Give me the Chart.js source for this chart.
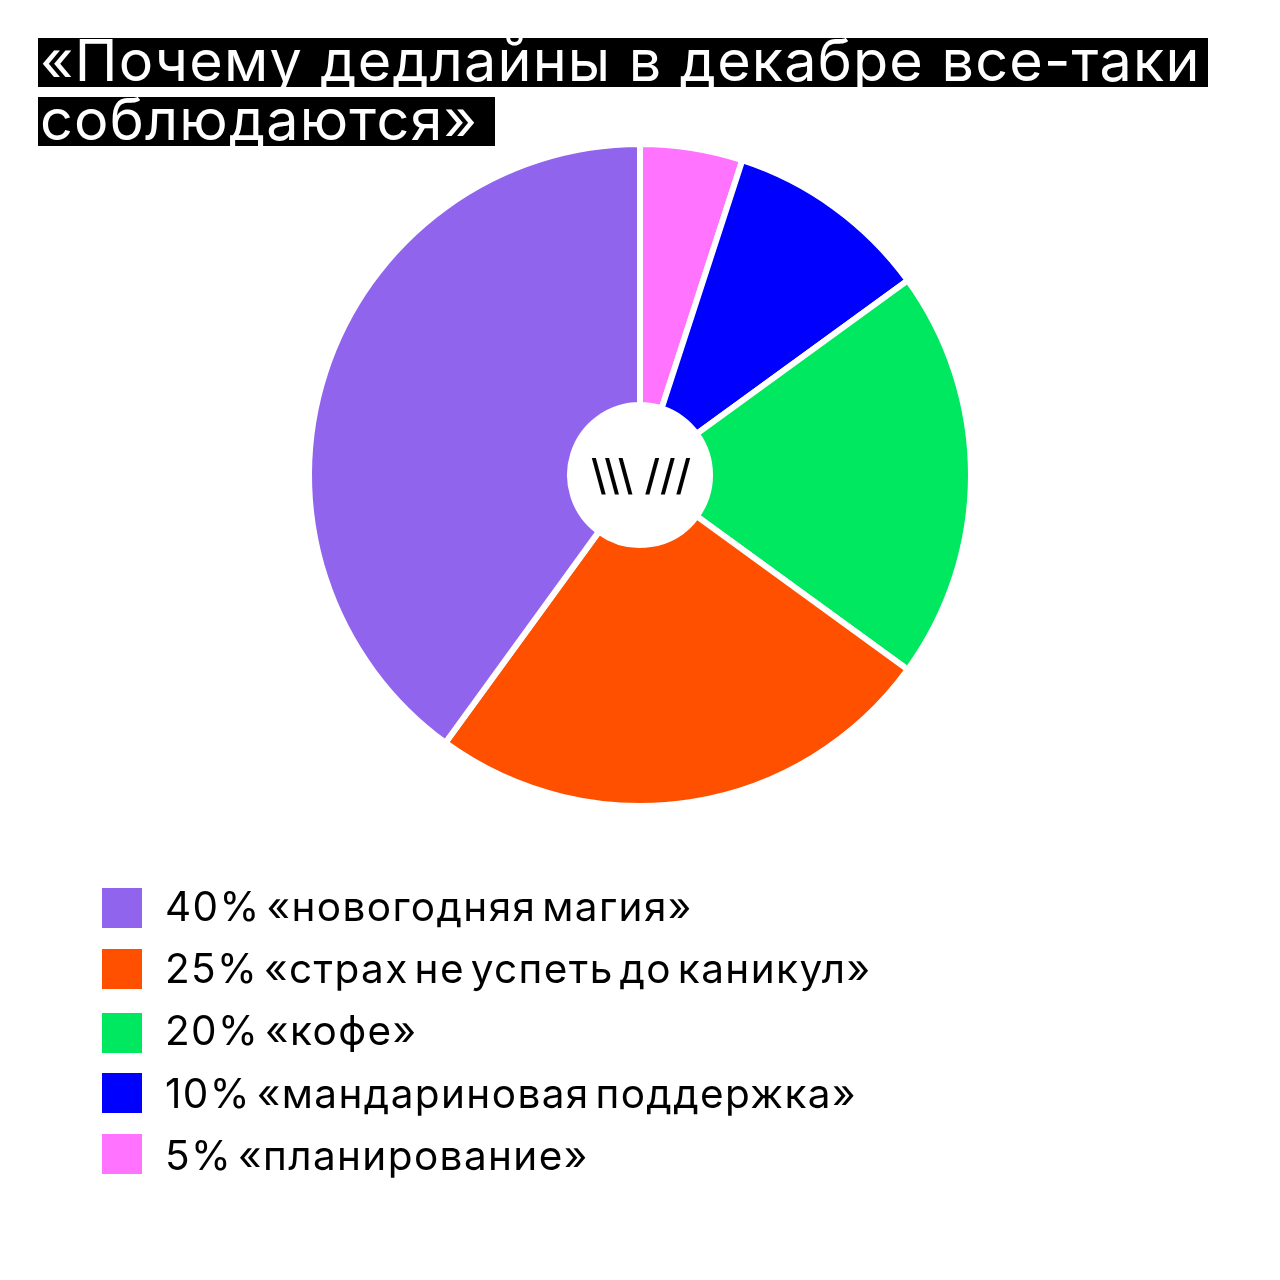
<!DOCTYPE html>
<html lang="ru">
<head>
<meta charset="utf-8">
<title>Почему дедлайны</title>
<script src="https://cdn.jsdelivr.net/npm/chart.js@4"></script>
<style>
html,body{margin:0;padding:0;background:#fff;}
#stage{position:relative;width:1280px;height:1280px;overflow:hidden;background:#fff;font-family:Inter,sans-serif;}
canvas{position:absolute;left:0;top:0;}
.tl{position:absolute;left:38px;height:49px;line-height:45px;background:#000;color:#fff;font-size:57.5px;font-weight:400;white-space:nowrap;padding:0 0 0 2px;box-sizing:border-box;letter-spacing:1.2px;overflow:visible;}
.sw{position:absolute;left:102px;width:40px;height:40px;}
.lb{position:absolute;left:165px;font-size:40.5px;line-height:46px;color:#000;white-space:nowrap;letter-spacing:1.4px;word-spacing:-7px;}
</style>
</head>
<body>
<div id="stage">
<canvas id="c" width="1280" height="1280"></canvas>
</div>
<script>
const titleLines = ["«Почему дедлайны в декабре все-таки", "соблюдаются»"];
const categories = ["«планирование»", "«мандариновая поддержка»", "«кофе»", "«страх не успеть до каникул»", "«новогодняя магия»"];
const values = [5, 10, 20, 25, 40];
const colors = ["#FF73FF", "#0000FF", "#00E85F", "#FF5000", "#9164EE"];
const centerMark = "\\\\\\ ///";
const titleTops = [38, 97];
const titleWidths = [1170, 457];
const swatchTops = [888, 949, 1013, 1073, 1134];
const labelTops = [884, 946, 1008, 1071, 1133];

const stage = document.getElementById("stage");
titleLines.forEach((t, i) => {
  const d = document.createElement("div");
  d.className = "tl"; d.textContent = t;
  d.style.top = titleTops[i] + "px"; d.style.width = titleWidths[i] + "px";
  stage.appendChild(d);
});
const order = values.map((_, i) => values.length - 1 - i);
order.forEach((k, row) => {
  const s = document.createElement("div");
  s.className = "sw"; s.style.top = swatchTops[row] + "px"; s.style.background = colors[k];
  stage.appendChild(s);
  const l = document.createElement("div");
  l.className = "lb"; l.style.top = labelTops[row] + "px";
  l.textContent = values[k] + "% " + categories[k];
  stage.appendChild(l);
});

const centerPlugin = {
  id: "centerMark",
  afterDatasetsDraw(chart) {
    const arc = chart.getDatasetMeta(0).data[0];
    const ctx = chart.ctx;
    ctx.save();
    ctx.fillStyle = "#000";
    ctx.font = "500 42px Inter, sans-serif";
    ctx.textAlign = "center";
    ctx.textBaseline = "middle";
    ctx.fillText(centerMark, arc.x + 1, arc.y + 2);
    ctx.restore();
  }
};

new Chart(document.getElementById("c"), {
  type: "doughnut",
  data: {
    labels: categories,
    datasets: [{
      data: values,
      backgroundColor: colors,
      borderColor: "#fff",
      borderWidth: 6,
      borderAlign: "center",
      hoverOffset: 0
    }]
  },
  options: {
    responsive: false,
    devicePixelRatio: 1,
    animation: false,
    cutout: 70,
    layout: { padding: { left: 306, right: 306, top: 141, bottom: 471 } },
    plugins: { legend: { display: false }, title: { display: false }, tooltip: { enabled: false } }
  },
  plugins: [centerPlugin]
});
</script>
</body>
</html>
